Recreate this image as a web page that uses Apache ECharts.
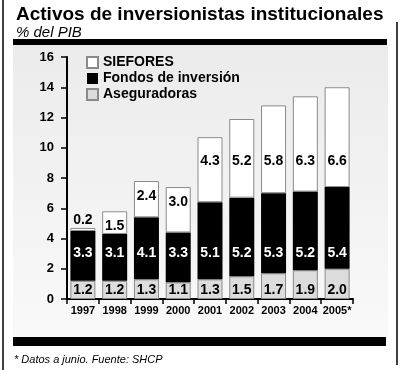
<!DOCTYPE html>
<html>
<head>
<meta charset="utf-8">
<script src="https://cdn.jsdelivr.net/npm/echarts@6/dist/echarts.min.js"></script>
<style>
html,body{margin:0;padding:0;background:#fff;}
#c{width:400px;height:370px;}
</style>
</head>
<body>
<div id="c"></div>
<script>
const years = ['1997','1998','1999','2000','2001','2002','2003','2004','2005*'];
const aseguradoras = [1.2, 1.2, 1.3, 1.1, 1.3, 1.5, 1.7, 1.9, 2.0];
const fondos = [3.3, 3.1, 4.1, 3.3, 5.1, 5.2, 5.3, 5.2, 5.4];
const siefores = [0.2, 1.5, 2.4, 3.0, 4.3, 5.2, 5.8, 6.3, 6.6];
const yTicks = [0, 2, 4, 6, 8, 10, 12, 14, 16];

const FONT = '"Liberation Sans", Arial, Helvetica, sans-serif';
const totals = years.map((_, i) => aseguradoras[i] + fondos[i] + siefores[i]);

// label anchor rules (in axis units)
const MID_Y = 3.05;
const midLabels = years.map((y, i) => [i, MID_Y, fondos[i]]);
const topLabels = years.map((y, i) => {
  let v;
  if (siefores[i] < 1) v = totals[i] + 0.5;
  else v = Math.min(9.1, totals[i] - 1.0);
  return [i, v, siefores[i]];
});

const chart = echarts.init(document.getElementById('c'), null, {renderer: 'canvas'});
const labelBase = {fontFamily: FONT, fontWeight: 'bold', fontSize: 14, opacity: 1, textBorderWidth: 0};

chart.setOption({
  animation: false,
  backgroundColor: '#ffffff',
  title: {
    text: 'Activos de inversionistas institucionales',
    subtext: '% del PIB',
    left: 11, top: 0,
    itemGap: 1,
    textStyle: {fontFamily: FONT, fontWeight: 'bold', fontSize: 19, color: '#000'},
    subtextStyle: {fontFamily: FONT, fontStyle: 'italic', fontSize: 15, color: '#000'}
  },
  graphic: [
    {type: 'rect', z: -10, silent: true, shape: {x: 13, y: 45, width: 375, height: 292},
      style: {fill: new echarts.graphic.LinearGradient(0, 0, 0, 1, [
        {offset: 0, color: '#ebebeb'}, {offset: 1, color: '#f9f9f9'}])}},
    {type: 'rect', silent: true, shape: {x: 13, y: 39, width: 374, height: 6}, style: {fill: '#000'}},
    {type: 'rect', silent: true, shape: {x: 13, y: 337, width: 373, height: 9}, style: {fill: '#000'}},
    {type: 'line', silent: true, shape: {x1: 3, y1: 0, x2: 3, y2: 370}, style: {stroke: '#000', lineWidth: 1.5}},
    {type: 'line', silent: true, shape: {x1: 397, y1: 22, x2: 397, y2: 365}, style: {stroke: '#000', lineWidth: 1.5}},
    {type: 'text', silent: true, left: 14, top: 354,
      style: {text: '* Datos a junio. Fuente: SHCP', font: 'italic 11px ' + FONT, fill: '#000'}}
  ],
  legend: {
    data: ['SIEFORES', 'Fondos de inversión', 'Aseguradoras'],
    orient: 'vertical',
    left: 86, top: 55, padding: 0,
    itemWidth: 11, itemHeight: 11, itemGap: 1,
    icon: 'rect',
    textStyle: {fontFamily: FONT, fontWeight: 'bold', fontSize: 14, color: '#000', lineHeight: 15}
  },
  grid: {left: 67, right: 47, top: 57, bottom: 71, containLabel: false},
  xAxis: {
    type: 'category',
    data: years,
    axisLine: {lineStyle: {color: '#000', width: 2}},
    axisTick: {show: true, length: 5, lineStyle: {color: '#000', width: 1.5}},
    axisLabel: {fontFamily: FONT, fontWeight: 'bold', fontSize: 11, color: '#000', margin: 6, interval: 0}
  },
  yAxis: {
    type: 'value',
    min: 0, max: 16, interval: 2,
    axisLine: {show: true, lineStyle: {color: '#000', width: 2}},
    axisTick: {show: true, length: 6, lineStyle: {color: '#000', width: 1.5}},
    splitLine: {show: false},
    axisLabel: {fontFamily: FONT, fontWeight: 'bold', fontSize: 13, color: '#000', margin: 13,
      formatter: v => yTicks.includes(v) ? String(v) : ''}
  },
  series: [
    {
      name: 'Aseguradoras', type: 'bar', stack: 'a', barWidth: 25,
      data: aseguradoras,
      itemStyle: {color: '#dcdcdc', borderColor: '#8a8a8a', borderWidth: 1},
      label: {show: true, position: 'insideBottom', distance: 2, color: '#000', ...labelBase,
        formatter: p => p.value.toFixed(1)}
    },
    {
      name: 'Fondos de inversión', type: 'bar', stack: 'a', barWidth: 25,
      data: fondos,
      itemStyle: {color: '#000', borderColor: '#000', borderWidth: 0}
    },
    {
      name: 'SIEFORES', type: 'bar', stack: 'a', barWidth: 25,
      data: siefores,
      itemStyle: {color: '#ffffff', borderColor: '#8a8a8a', borderWidth: 1}
    },
    {
      type: 'scatter', data: midLabels, symbolSize: 1,
      itemStyle: {color: 'rgba(0,0,0,0)', opacity: 1}, silent: true, z: 5,
      label: {show: true, position: 'inside', color: '#fff', ...labelBase,
        formatter: p => p.value[2].toFixed(1)}
    },
    {
      type: 'scatter', data: topLabels, symbolSize: 1,
      itemStyle: {color: 'rgba(0,0,0,0)', opacity: 1}, silent: true, z: 5,
      label: {show: true, position: 'inside', color: '#000', ...labelBase,
        formatter: p => p.value[2].toFixed(1)}
    }
  ]
});
</script>
</body>
</html>
